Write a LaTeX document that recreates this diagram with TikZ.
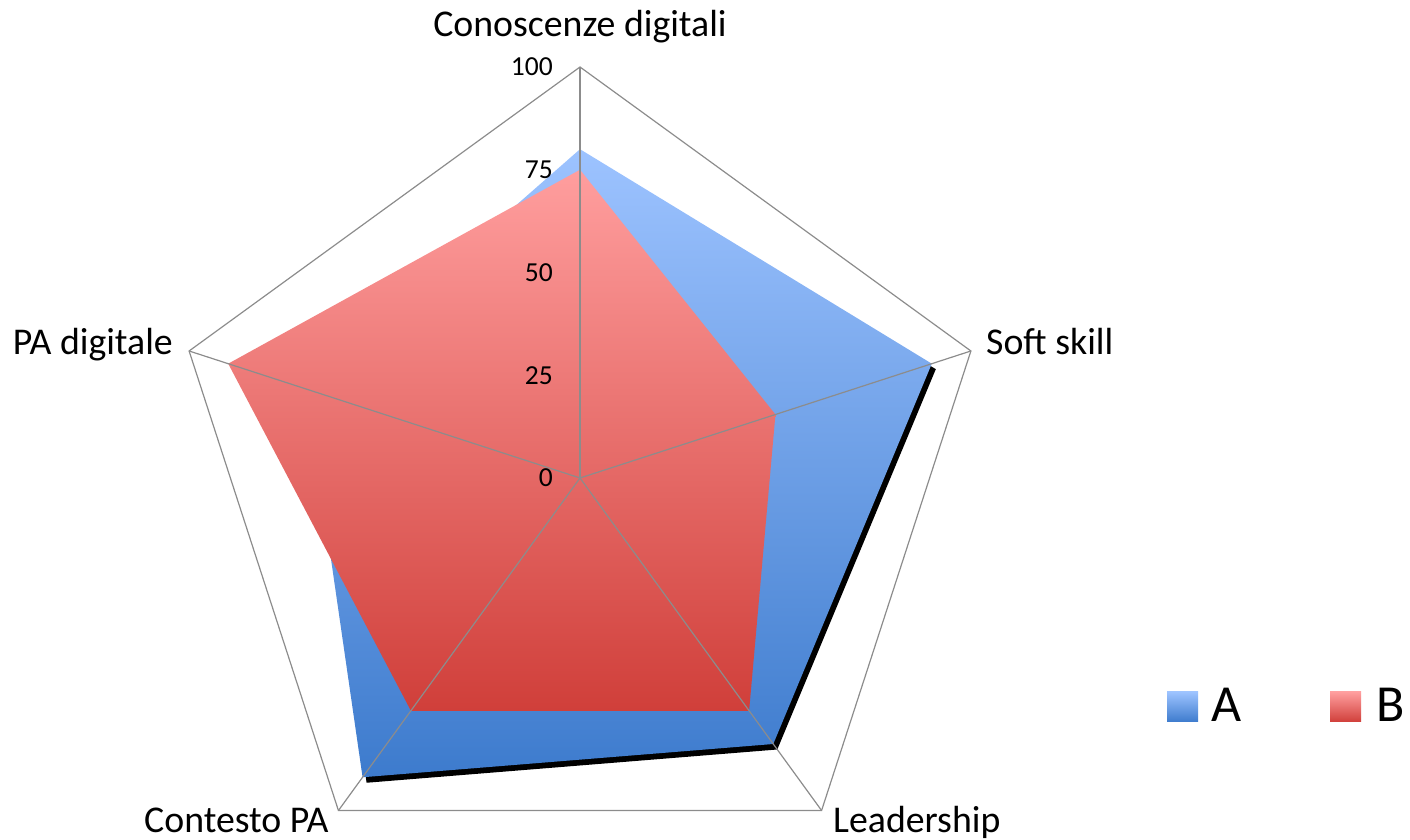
\documentclass[tikz,border=0pt]{standalone}
\usepackage{fontspec}
\setmainfont{Carlito}
\usetikzlibrary{calc}
\definecolor{gridgray}{HTML}{8C8C8C}
\definecolor{aTop}{HTML}{9DC3FF}
\definecolor{aBot}{HTML}{3D7BCD}
\definecolor{bTop}{HTML}{FF9E9E}
\definecolor{bBot}{HTML}{D03F3A}
\begin{document}
\begin{tikzpicture}[x=1pt,y=1pt,
  gridline/.style={draw=gridgray,line width=1.2pt},
  axislabel/.style={font=\fontsize{37.8}{42}\selectfont,inner sep=0pt},
  ticklabel/.style={font=\fontsize{27.5}{31}\selectfont,anchor=east,inner sep=0pt},
  legendlabel/.style={font=\fontsize{52}{56}\selectfont,inner sep=0pt,anchor=base west},
  seriesA/.style={top color=aTop,bottom color=aBot},
  seriesB/.style={top color=bTop,bottom color=bBot},
  shadowfill/.style={fill=black}]
\useasboundingbox (0,0) rectangle (1410,840);
\coordinate (O) at (580,362);
% axis ends
\foreach \n/\a in {1/90,2/18,3/-54,4/-126,5/162}{
  \coordinate (V\n) at ($(O)+(\a:411)$);
}
% series A: 80, 90, 80, 90, 70
\foreach \n/\a/\v in {1/90/80,2/18/90,3/-54/80,4/-126/90,5/162/70}{
  \coordinate (A\n) at ($(O)+(\a:{4.11*\v})$);
  \coordinate (S\n) at ($(A\n)+(4,-5.5)$);
}
% series B: 75, 50, 70, 70, 90
\foreach \n/\a/\v in {1/90/75,2/18/50,3/-54/70,4/-126/70,5/162/90}{
  \coordinate (B\n) at ($(O)+(\a:{4.11*\v})$);
}
% shadow of A
\fill[shadowfill] (S1) -- (S2) -- (S3) -- (S4) -- (S5) -- cycle;
% fills
\shade[seriesA] (A1) -- (A2) -- (A3) -- (A4) -- (A5) -- cycle;
\shade[seriesB] (B1) -- (B2) -- (B3) -- (B4) -- (B5) -- cycle;
% grid
\draw[gridline] (V1) -- (V2) -- (V3) -- (V4) -- (V5) -- cycle;
\foreach \n in {1,...,5}{ \draw[gridline] (O) -- (V\n); }
% tick labels
\node[ticklabel] (t0) at (553,362) {0};
\node[ticklabel] (t25) at (553,464.75) {25};
\node[ticklabel] (t50) at (553,567.5) {50};
\node[ticklabel] (t75) at (553,670.25) {75};
\node[ticklabel] (t100) at (553,773) {100};
% axis labels
\node[axislabel,anchor=base] (l1) at (580,803) {Conoscenze digitali};
\node[axislabel,anchor=base west] (l2) at (986,485) {Soft skill};
\node[axislabel,anchor=base west] (l3) at (833,7) {Leadership};
\node[axislabel,anchor=base west] (l4) at (144,7) {Contesto PA};
\node[axislabel,anchor=base east] (l5) at (173,485) {PA digitale};
% legend
\shade[seriesA] (1167,118) rectangle (1198,148);
\node[legendlabel] (legA) at (1211,118) {A};
\shade[seriesB] (1330,118) rectangle (1361,148);
\node[legendlabel] (legB) at (1376,118) {B};
\end{tikzpicture}
\end{document}
